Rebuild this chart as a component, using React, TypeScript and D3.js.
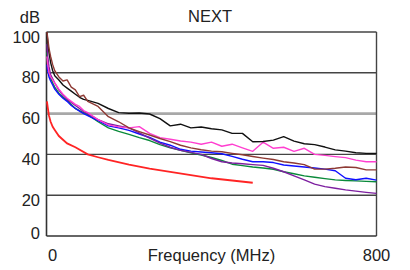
import React from 'react';
import * as d3 from 'd3';

// measurement frequencies (MHz) shared by the six measured pairs
const freqs = [1, 3, 6, 10, 15, 20, 30, 40, 50, 60, 70, 80, 90, 100, 125, 150, 175, 200, 225, 250, 275, 300, 325, 350, 375, 400, 425, 450, 475, 500, 525, 550, 575, 600, 625, 650, 675, 700, 725, 750, 775, 800];

const blackDb = [100, 95, 90, 85, 81, 78.5, 76.5, 74, 72.5, 71, 69.5, 68, 67, 66.5, 65, 62.5, 60.5, 60.2, 60.3, 59.8, 57.5, 54, 54.8, 53, 53.4, 52.6, 52, 50.3, 50.3, 46.2, 46.3, 47, 48.7, 46.5, 45.2, 44.8, 43.6, 42.2, 41.6, 40.8, 40.5, 40.5];
const pinkDb = [88, 84, 80, 78, 76.5, 75, 72, 69.5, 67.5, 66, 64.5, 63.5, 61.5, 60.5, 57, 54.5, 53.5, 53, 53.6, 50.3, 48.2, 47.4, 46.6, 46, 45, 46, 44, 45, 43.2, 41.5, 46, 43, 43.5, 41.5, 43, 40, 39.5, 38.9, 38.4, 37.2, 36.4, 36.4];
const brownDb = [100, 97, 92, 88, 84, 81, 78, 76, 76.5, 73, 71.6, 68.3, 69, 66, 63.5, 58.5, 56, 53, 51.2, 49.5, 47.8, 46.3, 44.5, 43.2, 42.3, 41.6, 41.3, 40.5, 39.8, 39, 38.2, 37.5, 36.4, 35.8, 35, 32.8, 32.8, 33.2, 33.8, 33.6, 32.4, 32.4];
const blueDb = [84, 81, 78, 76, 74, 72, 69.5, 67.5, 66, 64, 62.5, 61.2, 60, 59, 56.5, 54, 53, 51.8, 50, 48.3, 46, 44.5, 42.5, 41.6, 41.2, 40.8, 40.3, 39, 37.6, 36.4, 36.4, 36, 34.8, 34.3, 33.8, 33.3, 32.8, 32, 28.3, 27.6, 28.3, 27.4];
const greenDb = [90, 85, 80, 77.5, 75, 73, 70, 68, 66.5, 64.5, 62.5, 61.5, 60.5, 59.5, 56, 53, 51.3, 49.8, 48.2, 46.8, 44.8, 43.2, 42, 40.8, 39.7, 38.5, 37, 35.2, 34.5, 33.8, 33.3, 32.7, 31.5, 30.5, 29.5, 28.8, 28.1, 27.5, 27.2, 27, 26.8, 26.6];
const purpleDb = [94, 88, 83, 79, 77, 75, 71.5, 69, 67, 65.5, 64, 62.5, 61, 60, 57, 55, 54, 53, 50.5, 48, 45.5, 43.5, 42, 41, 40, 38, 36.4, 35.8, 35.4, 35, 34.6, 33.2, 31.5, 29.5, 27.5, 25.4, 24.2, 23.4, 22.6, 22, 21.4, 20.9];

// limit line
const limitFreqs = [1, 3, 6, 10, 15, 20, 30, 50, 70, 100, 125, 150, 200, 250, 300, 350, 400, 450, 500];
const limitDb = [66, 63, 59, 56, 53.5, 52, 49, 45.4, 43.5, 40, 38.6, 37.3, 35, 33, 31.4, 29.8, 28.3, 27.2, 26.1];

const yTicks = [0, 20, 40, 60, 80, 100];

const W = 410, H = 270;
const left = 46.5, right = 376.5, top = 32, bottom = 236;
const font = "'Liberation Sans', Arial, sans-serif";
const fs = 16.5;

const App = () => {
    const x = d3.scaleLinear().domain([0, 800]).range([left, right]);
    const y = d3.scaleLinear().domain([0, 100]).range([bottom, top]);

    const line = d3.line<[number, number]>()
        .x(d => x(d[0]))
        .y(d => y(d[1]));

    const measured = [
        { vals: greenDb, color: '#0a8a3a' },
        { vals: blueDb, color: '#1010ff' },
        { vals: purpleDb, color: '#7d1fa0' },
        { vals: pinkDb, color: '#ff3fd0' },
        { vals: blackDb, color: '#111111' },
        { vals: brownDb, color: '#8e3a34' },
    ];

    return (
        <svg width={W} height={H} style={{ position: 'absolute', left: 0, top: 0, background: '#fff' }}>
            {/* grid lines */}
            {yTicks.filter(t => t > 0).map(t => (
                <line key={t} x1={left} x2={right} y1={y(t)} y2={y(t)}
                    stroke={t === 60 ? '#a8a8a8' : '#444'} strokeWidth={t === 60 ? 2.6 : 1.4} />
            ))}
            {/* frame */}
            <line x1={left} x2={left} y1={top} y2={bottom} stroke="#333" strokeWidth={1.6} />
            <line x1={right} x2={right} y1={top} y2={bottom} stroke="#444" strokeWidth={1.4} />
            <line x1={left} x2={right} y1={bottom} y2={bottom} stroke="#333" strokeWidth={1.6} />

            {measured.map((s, i) => (
                <path key={i} d={line(freqs.map((f, j) => [f, s.vals[j]] as [number, number])) || ''}
                    fill="none" stroke={s.color} strokeWidth={1.4} strokeLinejoin="round" />
            ))}
            <path d={line(limitFreqs.map((f, j) => [f, limitDb[j]] as [number, number])) || ''}
                fill="none" stroke="#ff2424" strokeWidth={1.8} />

            {/* axis labels */}
            {yTicks.map(t => (
                <text key={t} x={40} y={y(t) + (t === 0 ? 3 : 10.5)} textAnchor="end"
                    fontFamily={font} fontSize={fs} fill="#222">{t}</text>
            ))}
            <text x={40} y={23} textAnchor="end" fontFamily={font} fontSize={fs} fill="#222">dB</text>
            <text x={210} y={21.5} textAnchor="middle" fontFamily={font} fontSize={fs} fill="#222">NEXT</text>
            <text x={x(0) + 1.5} y={260.5} textAnchor="start" fontFamily={font} fontSize={fs} fill="#222">0</text>
            <text x={x(800)} y={260.5} textAnchor="middle" fontFamily={font} fontSize={fs} fill="#222">800</text>
            <text x={211.5} y={260.5} textAnchor="middle" fontFamily={font} fontSize={fs} fill="#222">Frequency (MHz)</text>
        </svg>
    );
};

export default App;
